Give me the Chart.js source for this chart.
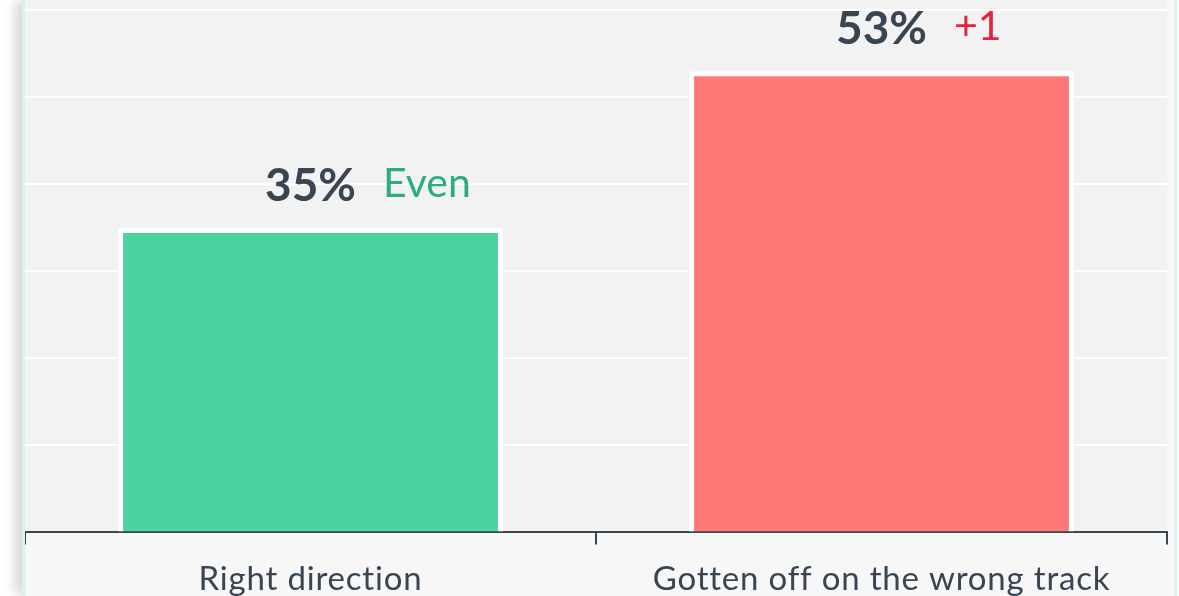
<!DOCTYPE html>
<html>
<head>
<meta charset="utf-8">
<script src="https://cdn.jsdelivr.net/npm/chart.js@4"></script>
<style>
    html, body { margin: 0; padding: 0; background: #ffffff; overflow: hidden; }
    .card {
        position: absolute;
        left: 22px;
        top: 0;
        width: 1150px;
        height: 596px;
        background: #f7f7f7;
        border-left: 3px solid #d6f4e8;
        border-right: 2px solid #d6f4e8;
        box-shadow: -9px 0 10px -1px rgba(0, 0, 0, 0.14);
    }
    .chart-box { position: relative; width: 1150px; height: 596px; }
</style>
</head>
<body>
<div class="card">
    <div class="chart-box"><canvas id="directionChart"></canvas></div>
</div>
<script>
// Right direction / wrong track poll
const categories = ['Right direction', 'Gotten off on the wrong track'];
const shares = [35, 53];
const changes = ['Even', '+1'];
const barColors = ['#4cd3a0', '#ff7878'];
const changeColors = ['#2aae7c', '#e8213f'];
const gridSteps = [0, 10, 20, 30, 40, 50, 60];

const textColor = '#3a4553';
const fontFamily = 'Lato, "Open Sans", sans-serif';

// light grey plot background behind the bars
const plotBackground = {
    id: 'plotBackground',
    beforeDraw(chart) {
        const { ctx, chartArea } = chart;
        // a touch of spacing keeps the axis labels free of ligatures
        ctx.letterSpacing = '0.8px';
        ctx.save();
        ctx.fillStyle = '#f2f2f2';
        ctx.fillRect(chartArea.left, 0, chartArea.right - chartArea.left, chartArea.bottom);
        ctx.restore();
    }
};

// value label centred over each bar, change label to its right
const valueLabels = {
    id: 'valueLabels',
    afterDatasetsDraw(chart) {
        const { ctx } = chart;
        const meta = chart.getDatasetMeta(0);
        ctx.save();
        ctx.letterSpacing = '0px';
        ctx.textBaseline = 'alphabetic';
        meta.data.forEach((bar, i) => {
            const mainText = shares[i] + '%';
            ctx.font = 'bold 46px ' + fontFamily;
            ctx.fillStyle = textColor;
            ctx.textAlign = 'center';
            ctx.fillText(mainText, bar.x, bar.y - 27);
            const half = ctx.measureText(mainText).width / 2;

            ctx.font = '41px ' + fontFamily;
            ctx.fillStyle = changeColors[i];
            ctx.textAlign = 'left';
            ctx.fillText(changes[i], bar.x + half + 27, bar.y - 31);
        });
        ctx.restore();
    }
};

const ctx = document.getElementById('directionChart').getContext('2d');
new Chart(ctx, {
    type: 'bar',
    data: {
        labels: categories,
        datasets: [{
            data: shares,
            backgroundColor: barColors,
            borderColor: '#ffffff',
            borderWidth: 5,
            borderSkipped: 'start',
            categoryPercentage: 1,
            barPercentage: 0.674
        }]
    },
    options: {
        responsive: true,
        maintainAspectRatio: false,
        animation: false,
        layout: {
            padding: { left: 0, right: 8, top: 0, bottom: -18 }
        },
        plugins: {
            legend: { display: false },
            tooltip: { enabled: false }
        },
        scales: {
            x: {
                offset: true,
                grid: {
                    offset: true,
                    drawOnChartArea: false,
                    drawTicks: true,
                    tickLength: 12,
                    color: textColor,
                    lineWidth: 2
                },
                border: { display: true, color: textColor, width: 2 },
                ticks: {
                    color: textColor,
                    padding: 15,
                    font: { family: fontFamily, size: 33 }
                }
            },
            y: {
                min: 0,
                max: 61.2,
                afterBuildTicks(axis) {
                    axis.ticks = gridSteps.map(v => ({ value: v }));
                },
                grid: {
                    color: '#ffffff',
                    lineWidth: 2,
                    drawTicks: false
                },
                border: { display: false },
                ticks: { display: false }
            }
        }
    },
    plugins: [plotBackground, valueLabels]
});
</script>
</body>
</html>
